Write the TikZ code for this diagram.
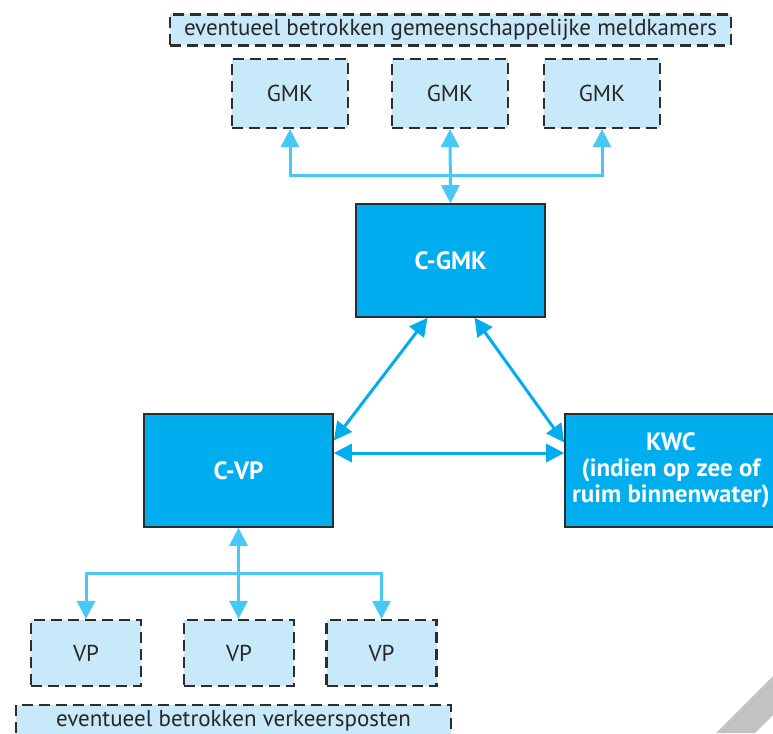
\documentclass[tikz,border=0pt]{standalone}
\usepackage{fontspec}
\setmainfont{PT Sans}
\usetikzlibrary{arrows.meta}
\definecolor{kwcblue}{RGB}{0,174,239}
\definecolor{paleblue}{RGB}{200,233,249}
\definecolor{linkblue}{RGB}{72,200,245}
\definecolor{edgegray}{RGB}{45,45,45}
\definecolor{inkgray}{RGB}{40,38,40}

\begin{document}
\begin{tikzpicture}[x=1pt,y=-1pt,>={Triangle[length=18pt,width=18pt]},
  mainbox/.style={draw=edgegray,line width=1.6pt,fill=kwcblue,text=white,
    font=\fontsize{25}{26}\selectfont\bfseries,align=center,inner sep=0pt},
  optbox/.style={draw=edgegray,line width=2.2pt,dash pattern=on 11pt off 6pt,
    fill=paleblue,text=inkgray,font=\fontsize{23}{26}\selectfont,inner sep=0pt},
  link/.style={line width=3pt,draw=kwcblue,<->},
  sublink/.style={line width=3pt,draw=linkblue}]
\useasboundingbox (0,0) rectangle (773,733);
% page corner
\fill[gray!48] (716,733) -- (773,676) -- (773,715) -- (755,733) -- cycle;
% gemeenschappelijke meldkamers
\node[optbox,minimum width=561pt,minimum height=31pt] (gmklabel) at (450.5,30) {eventueel betrokken gemeenschappelijke meldkamers};
\node[optbox,minimum width=116pt,minimum height=69pt] (gmk1) at (290,93.5) {GMK};
\node[optbox,minimum width=116pt,minimum height=69pt] (gmk2) at (450,93.5) {GMK};
\node[optbox,minimum width=116pt,minimum height=69pt] (gmk3) at (602,93.5) {GMK};
% centrale posten
\node[mainbox,minimum width=189pt,minimum height=113pt] (cgmk) at (450.5,260.5) {C-GMK};
\node[mainbox,minimum width=189pt,minimum height=113pt] (cvp) at (238.5,470.5) {C-VP};
\node[mainbox,minimum width=212pt,minimum height=113pt] (kwc) at (671,470.5) {KWC\\(indien op zee of\\ruim binnenwater)};
% verkeersposten
\node[optbox,minimum width=110pt,minimum height=66pt] (vp1) at (86,653) {VP};
\node[optbox,minimum width=110pt,minimum height=66pt] (vp2) at (239,653) {VP};
\node[optbox,minimum width=110pt,minimum height=66pt] (vp3) at (381.5,653) {VP};
\node[optbox,minimum width=435pt,minimum height=31pt] (vplabel) at (233.5,720.5) {eventueel betrokken verkeersposten};
% verbindingen
\coordinate (topbus) at (450,175);
\coordinate (botbus) at (239,573);
\draw[sublink,->] (topbus) -| (gmk1.south);
\draw[sublink,->] (topbus) -| (gmk3.south);
\draw[sublink,<->] (gmk2.south) -- (cgmk.north);
\draw[link] ([xshift=-23pt]cgmk.south) -- ([yshift=30pt]cvp.east);
\draw[link] ([xshift=24pt]cgmk.south) -- ([yshift=28pt]kwc.west);
\draw[link] ([yshift=17.5pt]cvp.east) -- ([yshift=17.5pt]kwc.west);
\draw[sublink,<->] (cvp.south) -- (cvp.south |- vp2.north);
\draw[sublink,->] (botbus) -| (vp1.north);
\draw[sublink,->] (botbus) -| (vp3.north);
\end{tikzpicture}
\end{document}
